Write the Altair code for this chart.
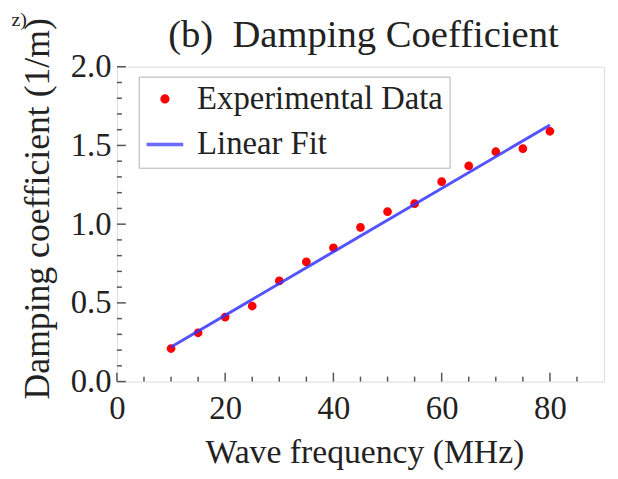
import altair as alt
import pandas as pd

# ---- data ----
freq = [10, 15, 20, 25, 30, 35, 40, 45, 50, 55, 60, 65, 70, 75, 80]
damping = [0.21, 0.31, 0.41, 0.48, 0.64, 0.76, 0.85, 0.98, 1.08, 1.13, 1.27, 1.37, 1.46, 1.48, 1.59]
fit_freq = [10, 80]
fit_damping = [0.22, 1.63]
series = ["Experimental Data", "Linear Fit"]

x_major = [0, 20, 40, 60, 80]
x_minor = [5, 10, 15, 25, 30, 35, 45, 50, 55, 65, 70, 75, 85]
y_major = [0.0, 0.5, 1.0, 1.5, 2.0]
y_minor = [0.1, 0.2, 0.3, 0.4, 0.6, 0.7, 0.8, 0.9, 1.1, 1.2, 1.3, 1.4, 1.6, 1.7, 1.8, 1.9]

title_text = ["(b)\u00a0\u00a0Damping Coefficient"]
corner_label = ["z)"]

W, H = 492, 318
FONT = "Liberation Serif"
TXT = "#222222"
RED = "#ff0000"
BLUE = "#3535ff"

xs = alt.Scale(domain=[0, 90], nice=False, zero=False)
ys = alt.Scale(domain=[0, 2], nice=False, zero=False)

pts = pd.DataFrame({"f": freq, "d": damping, "s": series[0]})
fit = pd.DataFrame({"f": fit_freq, "d": fit_damping})

x_axis = alt.Axis(values=x_major, format="d", ticks=False, domain=False, grid=False,
                  labelFont=FONT, labelFontSize=33, labelColor=TXT, labelPadding=11,
                  labelFlush=False, labelOverlap=False,
                  title="Wave frequency (MHz)", titleFont=FONT, titleFontSize=34,
                  titleFontWeight="normal", titleColor=TXT, titlePadding=11, titleX=250)
y_axis = alt.Axis(values=y_major, format=".1f", ticks=False, domain=False, grid=False,
                  labelFont=FONT, labelFontSize=33, labelColor=TXT, labelPadding=6,
                  labelFlush=False, labelOverlap=False,
                  title="Damping coefficient (1/m)", titleFont=FONT, titleFontSize=36,
                  titleFontWeight="normal", titleColor=TXT, titlePadding=14, titleY=143)

legend = alt.Legend(title=None, orient="none", legendX=22, legendY=10,
                    labelFont=FONT, labelFontSize=33, labelColor=TXT, labelLimit=0,
                    labelOffset=12, padding=6, rowPadding=8,
                    symbolStrokeWidth=3.5, strokeColor="#b0b0b0", fillColor="white",
                    cornerRadius=0)

points = alt.Chart(pts).mark_point(filled=True, strokeWidth=3, opacity=1).encode(
    x=alt.X("f:Q", scale=xs, axis=x_axis),
    y=alt.Y("d:Q", scale=ys, axis=y_axis),
    fill=alt.Fill("s:N", scale=alt.Scale(domain=series, range=[RED, "#6a6aff"]), legend=legend),
    stroke=alt.Stroke("s:N", scale=alt.Scale(domain=series, range=[RED, "#6a6aff"]), legend=legend),
    shape=alt.Shape("s:N", scale=alt.Scale(domain=series, range=["circle", "stroke"]), legend=legend),
    size=alt.Size("s:N", scale=alt.Scale(domain=series, range=[34, 1369]), legend=legend),
)

line = alt.Chart(fit).mark_line(color=BLUE, strokeWidth=3, opacity=0.85).encode(
    x=alt.X("f:Q", scale=xs, axis=x_axis),
    y=alt.Y("d:Q", scale=ys, axis=y_axis),
)

TICK = "#555555"
xmaj = alt.Chart(pd.DataFrame({"f": x_major})).mark_rule(color=TICK, strokeWidth=1.5).encode(
    x=alt.X("f:Q", scale=xs, axis=x_axis), y=alt.value(H), y2=alt.value(H - 9))
xmin = alt.Chart(pd.DataFrame({"f": x_minor})).mark_rule(color=TICK, strokeWidth=1.5).encode(
    x=alt.X("f:Q", scale=xs, axis=x_axis), y=alt.value(H), y2=alt.value(H - 5))
ymaj = alt.Chart(pd.DataFrame({"d": y_major})).mark_rule(color=TICK, strokeWidth=1.5).encode(
    y=alt.Y("d:Q", scale=ys, axis=y_axis), x=alt.value(0), x2=alt.value(9))
ymin = alt.Chart(pd.DataFrame({"d": y_minor})).mark_rule(color=TICK, strokeWidth=1.5).encode(
    y=alt.Y("d:Q", scale=ys, axis=y_axis), x=alt.value(0), x2=alt.value(5))

title = alt.Chart(pd.DataFrame({"t": title_text})).mark_text(
    font=FONT, fontSize=39, color=TXT, align="center", baseline="alphabetic"
).encode(x=alt.value(W / 2 + 3), y=alt.value(-20), text="t:N")

corner = alt.Chart(pd.DataFrame({"t": corner_label})).mark_text(
    font=FONT, fontSize=20, color=TXT, align="right", baseline="alphabetic"
).encode(x=alt.value(-91), y=alt.value(-41), text="t:N")

chart = alt.layer(points, line, xmaj, xmin, ymaj, ymin, title, corner).properties(
    width=W, height=H,
    autosize=alt.AutoSizeParams(type="none"),
    padding={"left": 110, "top": 57, "right": 6, "bottom": 88},
).configure_view(stroke="#8a8a8a", strokeWidth=2.5).configure(background="white")

chart.save("out.html", embed_options={"renderer": "svg", "actions": False})
